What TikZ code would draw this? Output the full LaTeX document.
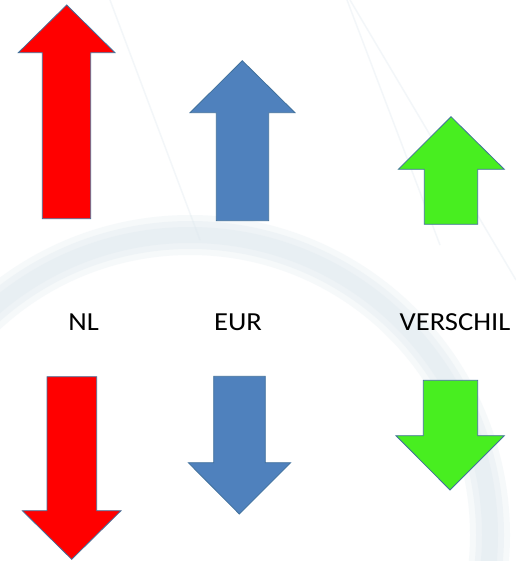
\documentclass[tikz,border=0pt]{standalone}
\usepackage{fontspec}
\setmainfont{Carlito}
\definecolor{arrred}{HTML}{FF0000}
\definecolor{arrblue}{HTML}{4F81BD}
\definecolor{arrgreen}{HTML}{48EE20}
\definecolor{arredge}{HTML}{41719C}
\definecolor{wmark}{HTML}{DDE8EE}
\begin{document}
\begin{tikzpicture}[x=1pt,y=-1pt,
  arrowshape/.style={draw=arredge,line width=0.8pt,line join=miter},
  lbl/.style={font=\fontsize{26}{30}\selectfont,anchor=base,inner sep=0pt},
  wm/.style={draw=wmark}]
\useasboundingbox (0,0) rectangle (516,561);
\fill[white] (0,0) rectangle (516,561);
% faint watermark
\begin{scope}
\clip (0,0) rectangle (516,561);
\draw[wm,line width=40pt,opacity=0.25] (190,535) circle[radius=300];
\draw[wm,line width=28pt,opacity=0.3] (190,535) circle[radius=300];
\draw[wm,line width=16pt,opacity=0.3] (190,535) circle[radius=300];
\draw[wm,line width=1.5pt,opacity=0.35] (110,0) -- (200,240);
\draw[wm,line width=1.5pt,opacity=0.35] (347,0) -- (440,245);
\draw[wm,line width=1.5pt,opacity=0.35] (350,0) -- (516,280);
\end{scope}
% up arrows
\draw[arrowshape,fill=arrred] (66.7,5) -- (115,52.7) -- (90.7,52.7) -- (90.7,218.7) -- (42.3,218.7) -- (42.3,52.7) -- (18.3,52.7) -- cycle;
\draw[arrowshape,fill=arrblue] (242.3,60.7) -- (295,112.7) -- (268.7,112.7) -- (268.7,220.7) -- (216.3,220.7) -- (216.3,112.7) -- (190,112.7) -- cycle;
\draw[arrowshape,fill=arrgreen] (451,116.7) -- (504.3,169.3) -- (477.7,169.3) -- (477.7,224.3) -- (424.3,224.3) -- (424.3,169.3) -- (398.3,169.3) -- cycle;
% labels
\node[lbl] (nl) at (83.7,330) {\scalebox{1.1}[1]{NL}};
\node[lbl] (eur) at (238,330) {\scalebox{1.1}[1]{EUR}};
\node[lbl] (vers) at (455,330) {\scalebox{1.1}[1]{VERSCHIL}};
% down arrows
\draw[arrowshape,fill=arrred] (47,376.7) -- (96.7,376.7) -- (96.7,510.7) -- (121,510.7) -- (71.7,559.3) -- (22.3,510.7) -- (47,510.7) -- cycle;
\draw[arrowshape,fill=arrblue] (213.7,376.3) -- (265.3,376.3) -- (265.3,462.7) -- (290.7,462.7) -- (239.3,514) -- (188.3,462.7) -- (213.7,462.7) -- cycle;
\draw[arrowshape,fill=arrgreen] (423.3,380.3) -- (477.7,380.3) -- (477.7,435.7) -- (504.3,435.7) -- (450,490) -- (396,435.7) -- (423.3,435.7) -- cycle;
\end{tikzpicture}
\end{document}
